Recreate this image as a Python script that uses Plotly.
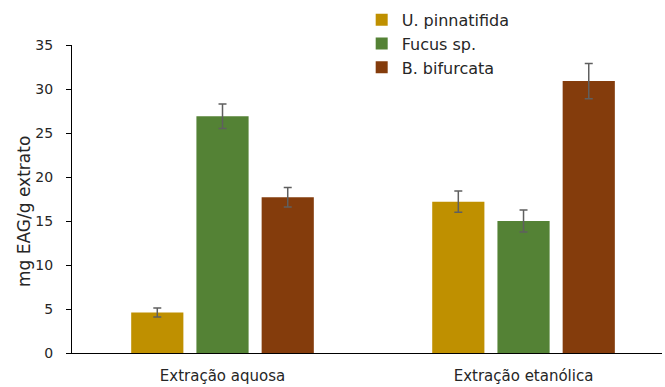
import plotly.graph_objects as go

# Phenolic content per extraction method (mg EAG / g extract)
categories = ["Extração aquosa", "Extração etanólica"]
species = ["U. pinnatifida", "Fucus sp.", "B. bifurcata"]
values = {
    "U. pinnatifida": [4.6, 17.2],
    "Fucus sp.": [26.9, 15.0],
    "B. bifurcata": [17.7, 30.9],
}
errors = {
    "U. pinnatifida": [0.5, 1.2],
    "Fucus sp.": [1.4, 1.25],
    "B. bifurcata": [1.1, 2.0],
}
colors = {
    "U. pinnatifida": "#BF9000",
    "Fucus sp.": "#548235",
    "B. bifurcata": "#843C0C",
}
y_title = "mg EAG/g extrato"

fig = go.Figure()
for sp in species:
    fig.add_trace(go.Bar(
        name=sp,
        x=categories,
        y=values[sp],
        marker=dict(color=colors[sp], line=dict(width=0)),
        error_y=dict(type="data", array=errors[sp], visible=True,
                     color="#5f5f5f", thickness=1.5, width=4),
    ))

font = "DejaVu Sans, sans-serif"
text_color = "#262626"
fig.update_layout(
    width=665, height=387,
    margin=dict(l=72, r=3, t=45, b=34),
    paper_bgcolor="white", plot_bgcolor="white",
    barmode="group", bargap=0.35, bargroupgap=0.2,
    font=dict(family=font, size=14, color=text_color),
    showlegend=True,
    legend=dict(x=0.491, y=1.137, xanchor="left", yanchor="top",
                bgcolor="rgba(0,0,0,0)", font=dict(size=16, color=text_color),
                itemwidth=30, tracegroupgap=0),
    xaxis=dict(range=[-0.5, 1.46], showline=True, linecolor="black", linewidth=1,
               ticks="", ticklabelstandoff=9, automargin=False,
               tickfont=dict(size=15, color=text_color), showgrid=False),
    yaxis=dict(range=[0, 35], dtick=5, showline=True, linecolor="black", linewidth=1,
               ticks="outside", ticklen=5, tickcolor="black", showgrid=False,
               ticklabelstandoff=10, automargin=False,
               zeroline=False, tickfont=dict(size=14, color=text_color)),
    annotations=[dict(text=y_title, textangle=-90, xref="paper", yref="paper",
                      x=-0.0814, y=0.461, xanchor="center", yanchor="middle",
                      showarrow=False, font=dict(size=17, color=text_color))],
)

fig.write_html("out.html")
